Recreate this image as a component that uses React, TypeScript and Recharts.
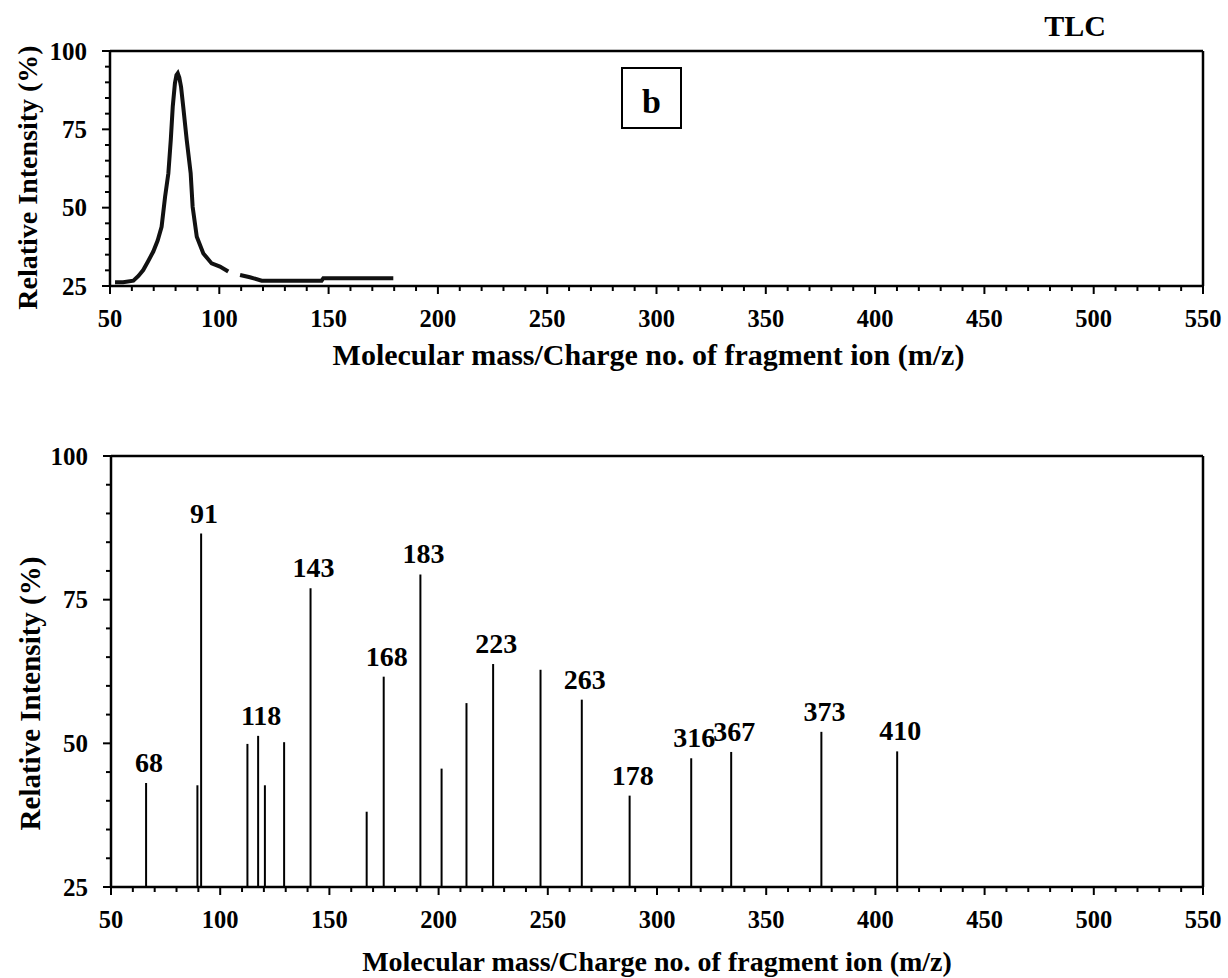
import React from 'react';
import { LineChart, Line, BarChart, Bar, XAxis, YAxis, LabelList, Label, ReferenceLine } from 'recharts';

const FONT = '"Liberation Serif", "Times New Roman", Times, serif';

// top panel (b): TLC trace, null = break in the trace
const traceMz = [52.3, 56, 60.7, 63, 65.2, 67.5, 69.8, 71.8, 73.6, 75.2, 76.7, 77.8, 78.7, 79.7, 80.4, 81, 81.7, 82.5, 83.5, 85.1, 86.9, 87.8, 89.7, 92.7, 96.5, 100.3, 104.1, 106.8, 109.5, 114, 119.4, 130, 146.8, 147.6, 160, 179.6];
const traceIntensity = [26.2, 26.2, 26.7, 28.2, 30.1, 33, 36, 39.5, 43.9, 53.5, 61, 71.6, 82.2, 89.7, 92.3, 92.9, 91.5, 88.6, 82.2, 71.6, 61, 50.3, 40.7, 35.4, 32.2, 31.2, 29.6, null, 28.5, 27.8, 26.7, 26.7, 26.7, 27.5, 27.5, 27.5];

// bottom panel: fragment peaks
const peakMz = [66, 89.5, 91.2, 112.4, 117.3, 120.4, 129.2, 141.3, 167, 174.8, 191.6, 201.3, 212.7, 224.9, 246.6, 265.5, 287.4, 315.6, 333.9, 375.2, 409.9];
const peakIntensity = [43.1, 42.7, 86.5, 49.9, 51.3, 42.7, 50.2, 77, 38.1, 61.6, 79.4, 45.6, 57, 63.8, 62.8, 57.6, 40.9, 47.4, 48.5, 52, 48.6];
const peakLabels = ['68', '', '91', '', '118', '', '', '143', '', '168', '183', '', '', '223', '', '263', '178', '316', '367', '373', '410'];

const xMajorLabels = [50, 100, 150, 200, 250, 300, 350, 400, 450, 500, 550];
const yMajorLabels = [25, 50, 75, 100];
const xTicks = Array.from({ length: 51 }, (_, i) => 50 + i * 10);
const yTicks = Array.from({ length: 16 }, (_, i) => 25 + i * 5);

const traceData = traceMz.map((mz, i) => ({ mz, intensity: traceIntensity[i] }));
const peakData = peakMz.map((mz, i) => ({ mz, intensity: peakIntensity[i], label: peakLabels[i] }));

const XTick = (props: any) => {
  const { x, y, payload } = props;
  const major = xMajorLabels.includes(payload.value);
  return (
    <g>
      <line x1={x} x2={x} y1={y} y2={y + (major ? 8 : 5)} stroke="#000" strokeWidth={2} />
      {major && (
        <text x={x} y={y + 41} textAnchor="middle" fontSize={24.5} fontWeight="bold" fontFamily={FONT} fill="#000">
          {payload.value}
        </text>
      )}
    </g>
  );
};

const YTick = (props: any) => {
  const { x, y, payload } = props;
  const major = yMajorLabels.includes(payload.value);
  return (
    <g>
      <line x1={x} x2={x - (major ? 8 : 5)} y1={y} y2={y} stroke="#000" strokeWidth={2} />
      {major && (
        <text x={x - 23} y={y} dy="0.35em" textAnchor="end" fontSize={25} fontWeight="bold" fontFamily={FONT} fill="#000">
          {payload.value}
        </text>
      )}
    </g>
  );
};

const xTitle = (size: number, drop: number, shift: number) => (p: any) => {
  const vb = p.viewBox || { x: 0, y: 0, width: 0, height: 0 };
  return (
    <text x={vb.x + vb.width / 2 + shift} y={vb.y + drop} textAnchor="middle" fontSize={size} fontWeight="bold" fontFamily={FONT} fill="#000">
      Molecular mass/Charge no. of fragment ion (m/z)
    </text>
  );
};

const yTitle = (size: number, left: number, shift: number) => (p: any) => {
  const vb = p.viewBox || { x: 0, y: 0, width: 0, height: 0 };
  const cx = vb.x + left;
  const cy = vb.y + vb.height / 2 + shift;
  return (
    <text x={cx} y={cy} dy="0.35em" transform={`rotate(-90 ${cx} ${cy})`} textAnchor="middle" fontSize={size} fontWeight="bold" fontFamily={FONT} fill="#000">
      Relative Intensity (%)
    </text>
  );
};

const peakLabel = (p: any) => {
  const { x, y, width, value } = p;
  if (!value) return null;
  return (
    <text x={x + width / 2 + 3} y={y - 11} textAnchor="middle" fontSize={28} fontWeight="bold" fontFamily={FONT} fill="#000">
      {value}
    </text>
  );
};

const axisLine = { stroke: '#000', strokeWidth: 2.5 };

export default function App() {
  return (
    <div style={{ position: 'absolute', left: 0, top: 0, width: 1228, height: 978, background: '#fff' }}>
      <div style={{ position: 'absolute', left: 0, top: 0 }}>
        <LineChart width={1228} height={380} data={traceData} margin={{ top: 51, right: 25, bottom: 0, left: 0 }}>
          <XAxis dataKey="mz" type="number" domain={[50, 550]} ticks={xTicks} interval={0}
            tick={<XTick />} tickLine={false} tickSize={0} tickMargin={0} axisLine={axisLine} height={94}>
            <Label content={xTitle(30, 79, -8)} />
          </XAxis>
          <YAxis type="number" domain={[25, 100]} ticks={yTicks} interval={0}
            tick={<YTick />} tickLine={false} tickSize={0} tickMargin={0} axisLine={axisLine} width={110}>
            <Label content={yTitle(28, 27, 9)} />
          </YAxis>
          {/* frame: top and right edges */}
          <ReferenceLine y={100} stroke="#000" strokeWidth={2.5} />
          <ReferenceLine x={550} stroke="#000" strokeWidth={2.5} />
          <Line type="linear" dataKey="intensity" stroke="#111" strokeWidth={4}
            dot={false} isAnimationActive={false} />
        </LineChart>
      </div>

      <div style={{ position: 'absolute', left: 0, top: 380 }}>
        <BarChart width={1228} height={598} data={peakData} margin={{ top: 76, right: 25, bottom: 0, left: 0 }}>
          <XAxis dataKey="mz" type="number" domain={[50, 550]} ticks={xTicks} interval={0}
            tick={<XTick />} tickLine={false} tickSize={0} tickMargin={0} axisLine={axisLine} height={91}>
            <Label content={xTitle(28, 84, 0)} />
          </XAxis>
          <YAxis type="number" domain={[25, 100]} ticks={yTicks} interval={0}
            tick={<YTick />} tickLine={false} tickSize={0} tickMargin={0} axisLine={axisLine} width={111}>
            <Label content={yTitle(29, 30, 22)} />
          </YAxis>
          <ReferenceLine y={100} stroke="#000" strokeWidth={2.5} />
          <ReferenceLine x={550} stroke="#000" strokeWidth={2.5} />
          <Bar dataKey="intensity" fill="#000" barSize={2} isAnimationActive={false}>
            <LabelList dataKey="label" content={peakLabel} />
          </Bar>
        </BarChart>
      </div>

      <svg width={1228} height={978} style={{ position: 'absolute', left: 0, top: 0, pointerEvents: 'none' }}>
        <text x={1075} y={36} textAnchor="middle" fontSize={30} fontWeight="bold" fontFamily={FONT} fill="#000">TLC</text>
        <rect x={622} y={68} width={59} height={60} fill="#fff" stroke="#000" strokeWidth={2} />
        <text x={651.5} y={113} textAnchor="middle" fontSize={34} fontWeight="bold" fontFamily={FONT} fill="#000">b</text>
      </svg>
    </div>
  );
}
